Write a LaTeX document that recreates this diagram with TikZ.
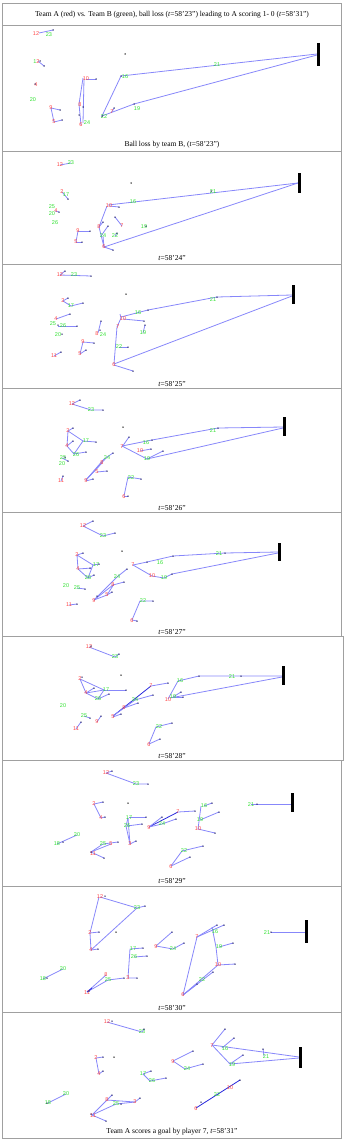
\documentclass[tikz,border=0pt]{standalone}
\usepackage{fontspec}
\setmainfont{Liberation Serif}
\newfontfamily\labfont{Liberation Sans}
\definecolor{teamA}{RGB}{255,70,70}
\definecolor{teamB}{RGB}{50,225,50}
\definecolor{linkc}{RGB}{135,135,250}
\definecolor{darklink}{RGB}{40,40,220}
\definecolor{dotc}{RGB}{20,20,90}
\definecolor{framec}{RGB}{160,160,160}
\tikzset{
  rlab/.style={text=teamA,font=\labfont\fontsize{5.5}{6}\selectfont,inner sep=0pt},
  glab/.style={text=teamB,font=\labfont\fontsize{5.5}{6}\selectfont,inner sep=0pt},
  pl/.style={draw=linkc,line width=0.8pt},
  dpl/.style={draw=darklink,line width=0.8pt},
  goalbar/.style={draw=black,line width=3pt},
  frame/.style={draw=framec,line width=0.8pt},
  capt/.style={font=\fontsize{7.5}{9}\selectfont,inner sep=0pt},
}
\newcommand\pR[3]{\node[rlab] at (#1,#2) {#3};}
\newcommand\pG[3]{\node[glab] at (#1,#2) {#3};}
\newcommand\pD[2]{\fill[dotc] (#1,#2) circle (0.75);}
\newcommand\bD[2]{\fill[black] (#1,#2) circle (0.75);}
\begin{document}
\begin{tikzpicture}[x=1pt,y=-1pt]
\useasboundingbox (0,0) rectangle (347,1140);
% frames
\draw[frame] (2,3) rectangle (341,25);
\foreach \a/\b in {25/151,151/264,264/388,388/512,512/636,760/886,886/1012,1012/1138}
  \draw[frame] (2,\a) rectangle (341,\b);
\draw[frame] (2,636) rectangle (343,760);
\node[capt] (title) at (172,15) {Team A (red) vs. Team B (green), ball loss (\textit{t}=58’23”) leading to A scoring 1- 0 (\textit{t}=58’31”)};

% ---------- Panel 1
\draw[pl] (121,76)--(317,54);
\draw[pl] (121,76)--(102,116)--(134,104)--(317,55);
\draw[pl] (39,33)--(53,30);
\draw[pl] (38,61)--(44,66);
\draw[pl] (51,108)--(60,110); \draw[pl] (54,122)--(62,120); \draw[pl] (51,108)--(54,122);
\draw[pl] (86,79)--(96,79);
\draw[pl] (83,78)--(79,104)--(81,125); \draw[pl] (84,79)--(83,123);
\draw[pl] (112,112)--(114,108);
\draw[goalbar] (318,43)--(318,66);
\pR{36}{34}{12} \pG{49}{35}{23} \pD{53}{30}
\bD{125}{54}
\pG{35}{62}{1}\pR{38}{62}{2}\pD{44}{66}\pD{40}{61}
\pR{36}{85}{4} \pD{35}{84}
\pG{33}{100}{20}
\pR{51}{108}{9} \pD{60}{110} \pR{54}{122}{5} \pD{62}{120}
\pR{86}{79}{10} \pD{96}{79}
\pR{80}{105}{8} \pD{83}{107}
\pR{81}{125}{6} \pG{87}{123}{24} \pD{79}{115}
\pG{125}{77}{16} \pD{121}{76}
\pG{104}{117}{22} \pD{102}{116}
\pR{112}{112}{7} \pD{114}{108}
\pG{137}{109}{19} \pD{134}{104}
\pG{217}{65}{21}
\node[capt] (c1) at (172,145) {Ball loss by team B, (\textit{t}=58’23”)};

% ---------- Panel 2
\draw[pl] (60,165)--(71,163);
\draw[pl] (108,205)--(298,183);
\draw[pl] (104,247)--(298,183);
\draw[pl] (62,192)--(68,199);
\draw[pl] (55,211)--(59,212);
\draw[pl] (78,231)--(90,231); \draw[pl] (76,242)--(82,242); \draw[pl] (78,231)--(76,242);
\draw[pl] (109,206)--(119,207);
\draw[pl] (107,206)--(99,227)--(104,247)--(113,250);
\draw[pl] (99,227)--(103,222); \draw[pl] (101,236)--(108,226); \draw[pl] (104,247)--(103,236);
\draw[pl] (122,226)--(115,217);
\draw[pl] (115,236)--(117,233);
\draw[goalbar] (299,173)--(299,193);
\pR{60}{165}{12} \pG{71}{163}{23}
\bD{131}{183}
\pG{213}{192}{21} \pD{211}{191}
\pG{133}{202}{16}
\pR{109}{206}{10} \pD{119}{207}
\pR{62}{192}{2} \pG{66}{195}{17} \pD{68}{199}
\pG{52}{207}{25} \pG{52}{214}{20} \pR{56}{211}{4} \pD{59}{212}
\pG{55}{223}{26}
\pR{78}{231}{9} \pD{90}{231} \pR{76}{242}{5} \pD{82}{242}
\pR{99}{227}{8} \pG{103}{236}{24} \pR{104}{247}{6} \pD{113}{250} \pD{103}{222} \pD{108}{226}
\pR{122}{226}{7} \pD{115}{217}
\pG{115}{236}{22} \pD{117}{233}
\pG{144}{227}{19} \pD{146}{226}
\node[capt] (c2) at (172,258) {\textit{t}=58’24”};

% ---------- Panel 3
\draw[pl] (60,275)--(65,271); \draw[pl] (60,275)--(91,276);
\draw[pl] (63,301)--(68,298); \draw[pl] (63,301)--(71,306)--(83,303);
\draw[pl] (56,319)--(70,314);
\draw[pl] (58,326)--(77,326);
\draw[pl] (98,333)--(101,321);
\draw[pl] (83,342)--(94,343); \draw[pl] (80,354)--(86,350); \draw[pl] (83,342)--(80,354);
\draw[pl] (54,356)--(61,352);
\draw[pl] (123,319)--(144,321);
\draw[pl] (143,333)--(145,325);
\draw[pl] (119,347)--(128,347);
\draw[pl] (114,365)--(133,371);
\draw[pl] (121,317)--(148,310)--(217,297)--(292,295);
\draw[pl] (114,364)--(292,296);
\draw[pl] (114,364)--(117,327)--(121,318)--(120,314);
\draw[goalbar] (293,285)--(293,304);
\pR{60}{275}{12} \pD{65}{271} \pG{74}{275}{23} \pD{91}{276}
\bD{126}{294}
\pG{213}{300}{21} \pD{217}{297}
\pR{63}{301}{2} \pD{68}{298} \pG{71}{306}{17} \pD{83}{303}
\pR{56}{319}{4} \pD{70}{314}
\pG{53}{324}{25} \pG{63}{326}{26} \pD{77}{326} \pD{58}{325}
\pG{58}{335}{20} \pD{62}{334}
\pR{97}{334}{8} \pG{103}{335}{24} \pD{101}{321} \pD{100}{330}
\pR{83}{342}{9} \pD{94}{343} \pR{80}{354}{5} \pD{86}{350}
\pR{54}{356}{11} \pD{61}{352}
\pR{123}{319}{10} \pD{144}{321} \pR{118}{327}{7}
\pG{138}{313}{16} \pD{148}{310}
\pG{143}{333}{19} \pD{145}{325}
\pG{119}{347}{22} \pD{128}{347}
\pR{114}{365}{6} \pD{133}{371}
\node[capt] (c3) at (172,384) {\textit{t}=58’25”};

% ---------- Panel 4
\draw[pl] (72,404)--(80,400); \draw[pl] (72,404)--(91,410)--(103,410);
\draw[pl] (73,428)--(68,431)--(67,446)--(74,454)--(83,441)--(68,431);
\draw[pl] (83,441)--(96,442); \draw[pl] (67,446)--(73,441); \draw[pl] (74,454)--(86,452);
\draw[pl] (62,458)--(68,461);
\draw[pl] (61,481)--(63,476);
\draw[pl] (86,481)--(93,479); \draw[pl] (97,472)--(107,471);
\draw[pl] (86,480)--(107,457)--(113,453); \draw[pl] (86,480)--(102,463); \draw[pl] (86,480)--(104,459);
\draw[pl] (122,447)--(129,437);
\draw[pl] (140,451)--(151,449);
\draw[pl] (122,446)--(152,440)--(218,428)--(283,427);
\draw[pl] (122,446)--(147,459)--(283,428); \draw[pl] (147,459)--(163,451);
\draw[pl] (124,496)--(128,477)--(141,479); \draw[pl] (124,496)--(128,496);
\draw[goalbar] (284,417)--(284,436);
\pR{72}{404}{12} \pD{80}{400} \pG{91}{410}{23} \pD{103}{410}
\bD{123}{427}
\pG{213}{431}{21} \pD{218}{428}
\pR{68}{431}{2} \pD{73}{428} \pR{67}{446}{4} \pD{73}{441}
\pG{86}{441}{17} \pD{96}{442} \pG{76}{455}{26} \pD{86}{452}
\pG{63}{458}{25} \pG{62}{464}{20} \pD{68}{461} \pD{65}{457}
\pR{61}{481}{11} \pD{63}{476}
\pR{86}{481}{9} \pD{93}{479} \pR{97}{472}{5} \pD{107}{471}
\pR{102}{463}{8} \pG{107}{458}{24} \pD{113}{453}
\pR{122}{447}{7} \pD{129}{437}
\pG{146}{443}{16} \pD{152}{440}
\pR{140}{451}{10} \pD{151}{449}
\pG{147}{459}{19} \pD{163}{451}
\pG{131}{478}{22} \pD{141}{479}
\pR{124}{497}{6} \pD{128}{496}
\node[capt] (c4) at (172,508) {\textit{t}=58’26”};

% ---------- Panel 5
\draw[pl] (83,526)--(93,521); \draw[pl] (83,526)--(103,536)--(115,533);
\draw[pl] (77,555)--(83,553); \draw[pl] (77,555)--(78,569)--(88,578)--(93,565)--(77,555);
\draw[pl] (78,569)--(92,568); \draw[pl] (88,578)--(94,575); \draw[pl] (93,565)--(99,564);
\draw[pl] (77,588)--(85,589);
\draw[pl] (69,605)--(77,604);
\draw[pl] (94,600)--(117,577)--(127,569); \draw[pl] (94,600)--(113,585)--(124,582);
\draw[pl] (94,600)--(107,595)--(112,592); \draw[pl] (107,595)--(114,584);
\draw[pl] (133,565)--(147,562)--(173,556)--(225,553)--(278,552);
\draw[pl] (133,565)--(152,576)--(164,578)--(172,574)--(278,553);
\draw[pl] (132,620)--(140,601)--(153,601); \draw[pl] (132,620)--(137,621);
\draw[goalbar] (279,543)--(279,561);
\pR{83}{526}{12} \pD{93}{521} \pG{103}{536}{23} \pD{115}{533}
\bD{122}{551}
\pG{219}{554}{21} \pD{225}{553}
\pR{77}{555}{2} \pD{83}{553} \pR{78}{569}{4} \pG{96}{565}{17} \pD{99}{564}
\pG{88}{578}{26} \pD{94}{575} \pD{90}{568}
\pG{66}{586}{20} \pG{77}{588}{25} \pD{85}{589}
\pR{69}{605}{11} \pD{77}{604}
\pG{117}{577}{24} \pD{127}{569} \pR{113}{585}{8} \pD{124}{582}
\pR{107}{595}{5} \pD{112}{592} \pR{94}{601}{9} \pD{97}{596}
\pR{133}{565}{7} \pD{147}{562} \pG{160}{563}{16} \pD{173}{556}
\pR{152}{576}{10} \pG{164}{578}{19} \pD{172}{574}
\pG{143}{601}{22} \pD{153}{601} \pR{132}{621}{6} \pD{137}{621}
\node[capt] (c5) at (172,632) {\textit{t}=58’27”};

% ---------- Panel 6
\draw[pl] (89,647)--(115,657)--(119,654);
\draw[pl] (80,679)--(86,693)--(98,699)--(104,690)--(80,679);
\draw[pl] (104,690)--(126,690); \draw[pl] (86,693)--(94,688); \draw[pl] (98,699)--(109,694); \draw[pl] (86,693)--(104,690);
\draw[pl] (84,716)--(90,718);
\draw[pl] (76,729)--(81,722);
\draw[pl] (97,722)--(101,716);
\draw[pl] (113,717)--(121,714);
\draw[pl] (124,708)--(138,703);
\draw[dpl] (113,716)--(151,686);
\draw[pl] (113,716)--(135,700)--(153,695);
\draw[pl] (151,686)--(168,683);
\draw[pl] (168,699)--(178,681)--(199,676)--(241,676)--(282,676);
\draw[pl] (170,698)--(282,677);
\draw[pl] (173,697)--(181,692); \draw[pl] (173,697)--(183,697);
\draw[pl] (149,744)--(156,727)--(172,723); \draw[pl] (149,744)--(160,739);
\draw[goalbar] (283,666)--(283,685);
\pR{89}{647}{12} \pD{91}{646} \pG{115}{657}{23} \pD{119}{654}
\bD{121}{675}
\pG{232}{677}{21} \pD{241}{676}
\pR{80}{679}{2} \pD{82}{677} \pR{86}{693}{4} \pD{94}{688}
\pG{106}{690}{17} \pD{126}{690} \pG{98}{699}{26} \pD{109}{694}
\pG{63}{706}{20}
\pG{84}{716}{25} \pD{90}{718}
\pR{76}{729}{11} \pD{81}{722}
\pR{97}{722}{9} \pD{101}{716}
\pR{113}{717}{5} \pD{121}{714}
\pR{124}{708}{8} \pD{138}{703} \pG{135}{700}{24} \pD{153}{695}
\pR{151}{686}{7} \pD{168}{683}
\pG{180}{681}{16} \pD{199}{676}
\pR{168}{700}{10} \pG{173}{697}{19} \pD{181}{692} \pD{183}{697}
\pG{159}{727}{22} \pD{172}{723} \pR{149}{745}{6} \pD{160}{739}
\node[capt] (c6) at (172,756) {\textit{t}=58’28”};

% ---------- Panel 7
\draw[pl] (106,773)--(112,771); \draw[pl] (106,773)--(136,784)--(148,784);
\draw[pl] (251,804)--(291,804);
\draw[pl] (94,804)--(103,802); \draw[pl] (101,818)--(105,817); \draw[pl] (94,804)--(101,818);
\draw[pl] (129,817)--(146,817); \draw[pl] (127,826)--(142,824);
\draw[pl] (128,818)--(126,826)--(130,844)--(136,841); \draw[pl] (128,818)--(130,844);
\draw[dpl] (149,827)--(178,812);
\draw[pl] (178,812)--(195,811); \draw[pl] (149,827)--(162,817); \draw[pl] (149,827)--(162,824)--(176,819);
\draw[pl] (204,806)--(212,803); \draw[pl] (201,806)--(198,829)--(215,833); \draw[pl] (200,820)--(219,812);
\draw[pl] (57,844)--(77,835);
\draw[pl] (91,852)--(103,844)--(118,842); \draw[pl] (91,852)--(104,858); \draw[pl] (91,852)--(111,844);
\draw[pl] (171,866)--(182,851)--(203,846); \draw[pl] (171,866)--(190,857);
\draw[goalbar] (292,793)--(292,812);
\pR{106}{773}{12} \pD{112}{771} \pG{136}{784}{23} \pD{148}{784}
\bD{128}{803}
\pG{251}{805}{21} \pD{257}{804}
\pR{94}{804}{2} \pD{103}{802} \pR{101}{818}{4} \pD{105}{817}
\pG{129}{818}{17} \pD{146}{817} \pG{127}{826}{26} \pD{142}{824}
\pR{130}{844}{3} \pD{136}{841}
\pR{149}{828}{9} \pD{162}{817} \pG{162}{824}{24} \pD{176}{819}
\pR{178}{812}{7} \pD{195}{811}
\pG{204}{806}{16} \pD{212}{803} \pG{200}{820}{19} \pD{219}{812}
\pR{198}{829}{10} \pD{215}{833}
\pG{77}{835}{20} \pG{57}{844}{18} \pD{63}{842}
\pG{103}{844}{25} \pR{111}{844}{5} \pD{118}{842}
\pR{93}{854}{11} \pD{91}{852} \pD{104}{858}
\pG{184}{851}{22} \pD{203}{846} \pR{171}{867}{6} \pD{190}{857}
\node[capt] (c7) at (172,881) {\textit{t}=58’29”};

% ---------- Panel 8
\draw[pl] (100,897)--(137,908)--(145,906);
\draw[pl] (99,897)--(90,933)--(91,950)--(137,908);
\draw[pl] (90,933)--(99,932); \draw[pl] (91,950)--(98,949);
\draw[pl] (271,932)--(305,932);
\draw[pl] (156,946)--(172,932); \draw[pl] (156,946)--(173,949)--(184,943);
\draw[pl] (130,949)--(143,948); \draw[pl] (130,949)--(128,978)--(137,978); \draw[pl] (134,957)--(147,956);
\draw[pl] (43,979)--(63,969);
\draw[pl] (87,992)--(106,975); \draw[pl] (87,992)--(108,980)--(124,978);
\draw[dpl] (87,992)--(92,988);
\draw[pl] (197,937)--(217,925); \draw[pl] (197,937)--(224,925);
\draw[pl] (212,927)--(216,947)--(218,965)--(235,964); \draw[pl] (219,947)--(233,943);
\draw[pl] (197,937)--(183,995); \draw[pl] (183,995)--(218,965);
\draw[pl] (183,995)--(213,972); \draw[pl] (183,995)--(197,984);
\draw[goalbar] (306,920)--(306,943);
\pR{100}{897}{12} \pD{105}{896} \pG{137}{908}{23} \pD{145}{906}
\pR{90}{933}{2} \pD{99}{932} \pR{91}{950}{4} \pD{98}{949}
\bD{116}{932}
\pG{267}{933}{21} \pD{271}{932}
\pR{156}{947}{9} \pD{172}{932} \pG{173}{949}{24} \pD{184}{943}
\pG{133}{949}{17} \pD{143}{948} \pG{134}{957}{26} \pD{147}{956}
\pR{128}{978}{3} \pD{137}{978}
\pG{63}{969}{20} \pG{43}{979}{18} \pD{47}{978}
\pR{106}{975}{8} \pG{108}{980}{25} \pD{124}{978}
\pR{87}{993}{11} \pD{89}{991}
\pR{197}{937}{7} \pD{217}{925} \pD{224}{925}
\pG{215}{932}{16} \pG{219}{947}{19} \pD{233}{943}
\pR{218}{965}{10} \pD{235}{964}
\pG{202}{980}{22} \pD{213}{972} \pD{197}{984}
\pR{183}{995}{6}
\node[capt] (c8) at (172,1008) {\textit{t}=58’30”};

% ---------- Panel 9
\draw[pl] (107,1022)--(142,1032)--(144,1029);
\draw[pl] (263,1049)--(264,1056);
\draw[pl] (212,1045)--(225,1029); \draw[pl] (212,1045)--(299,1057);
\draw[pl] (212,1045)--(230,1064)--(299,1058);
\draw[pl] (222,1048)--(234,1038); \draw[pl] (230,1064)--(243,1055);
\draw[pl] (96,1058)--(103,1057); \draw[pl] (99,1074)--(103,1071); \draw[pl] (96,1058)--(99,1074);
\draw[pl] (173,1061)--(193,1051); \draw[pl] (173,1061)--(185,1069)--(203,1064);
\draw[pl] (143,1074)--(151,1071); \draw[pl] (143,1074)--(150,1081)--(166,1078);
\draw[pl] (48,1103)--(66,1094);
\draw[pl] (92,1115)--(107,1100)--(112,1095);
\draw[pl] (92,1115)--(116,1104)--(135,1102)--(140,1098);
\draw[pl] (107,1100)--(135,1102); \draw[pl] (92,1115)--(106,1121);
\draw[dpl] (196,1108)--(240,1080);
\draw[goalbar] (300,1047)--(300,1068);
\pR{107}{1022}{12} \pD{112}{1021} \pG{142}{1032}{23} \pD{144}{1029}
\bD{114}{1057}
\pG{266}{1057}{21} \pD{263}{1049}
\pR{212}{1046}{7} \pD{225}{1029} \pG{225}{1049}{16} \pD{234}{1038}
\pG{232}{1065}{19} \pD{243}{1055}
\pR{96}{1058}{2} \pD{103}{1057} \pR{99}{1074}{4} \pD{103}{1071}
\pR{173}{1062}{9} \pD{193}{1051} \pG{187}{1069}{24} \pD{203}{1064}
\pG{143}{1074}{17} \pD{151}{1071} \pG{152}{1081}{26} \pD{166}{1078}
\pG{66}{1094}{20} \pG{48}{1103}{18} \pD{47}{1103}
\pR{107}{1100}{8} \pD{112}{1095} \pG{116}{1104}{25} \pD{121}{1104}
\pR{135}{1102}{3} \pD{140}{1098}
\pR{93}{1116}{11} \pD{91}{1114} \pD{106}{1121}
\pR{196}{1109}{6} \pD{201}{1102} \pG{217}{1095}{22} \pR{230}{1088}{10} \pD{240}{1080}
\node[capt] (c9) at (172,1132) {Team A scores a goal by player 7, \textit{t}=58’31”};
\end{tikzpicture}
\end{document}
